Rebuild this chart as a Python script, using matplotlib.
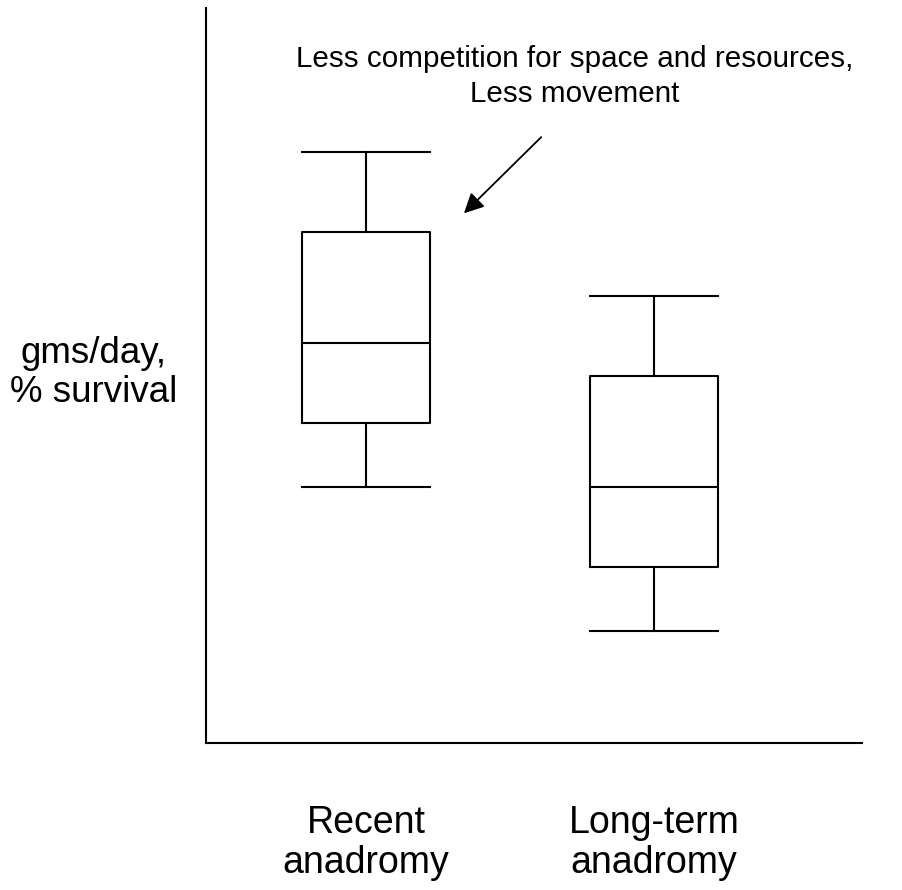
import matplotlib
matplotlib.use("Agg")
import matplotlib.pyplot as plt
from matplotlib.transforms import blended_transform_factory

plt.rcParams["font.family"] = ["Liberation Sans", "DejaVu Sans"]

# schematic box plot values (arbitrary units)
groups = ["Recent\nanadromy", "Long-term\nanadromy"]
whisker_low = [3.48, 1.52]
box_low = [4.35, 2.39]
medians = [5.44, 3.48]
box_high = [6.95, 4.99]
whisker_high = [8.04, 6.08]

ylabel = "gms/day,\n% survival"
note = "Less competition for space and resources,\nLess movement"

fig = plt.figure(figsize=(9.03, 8.90), dpi=100)
ax = fig.add_axes([0.2281, 0.1652, 0.7265, 0.8258])

stats = []
for i in range(len(groups)):
    stats.append({"whislo": whisker_low[i], "q1": box_low[i], "med": medians[i],
                  "q3": box_high[i], "whishi": whisker_high[i], "fliers": []})

line_kw = dict(color="black", linewidth=1.5)
ax.bxp(stats, positions=[1, 2], widths=0.444, capwidths=0.444,
       showfliers=False,
       boxprops=line_kw, whiskerprops=line_kw, capprops=line_kw,
       medianprops=line_kw)

ax.set_xlim(0.444, 2.722)
ax.set_ylim(0, 10)

for side in ["top", "right"]:
    ax.spines[side].set_visible(False)
for side in ["left", "bottom"]:
    ax.spines[side].set_linewidth(1.5)
ax.set_yticks([])
ax.set_xticks([])

# category labels under the axis
trans = blended_transform_factory(ax.transData, ax.transAxes)
for i, g in enumerate(groups):
    ax.text(i + 1, -0.085, g, transform=trans, ha="center", va="top",
            fontsize=27, linespacing=1.12)

fig.text(94 / 903, 1 - 373 / 890, ylabel, ha="center", va="center",
         fontsize=26.5, linespacing=1.12)

ax.text(1.725, 9.07, note, ha="center", va="center", fontsize=21.3,
        linespacing=1.3)
ax.annotate("", xy=(1.333, 7.18), xytext=(1.615, 8.27),
            arrowprops=dict(arrowstyle="-|>", color="black", lw=1.3,
                            mutation_scale=30))

fig.savefig("out.png", dpi=100)
